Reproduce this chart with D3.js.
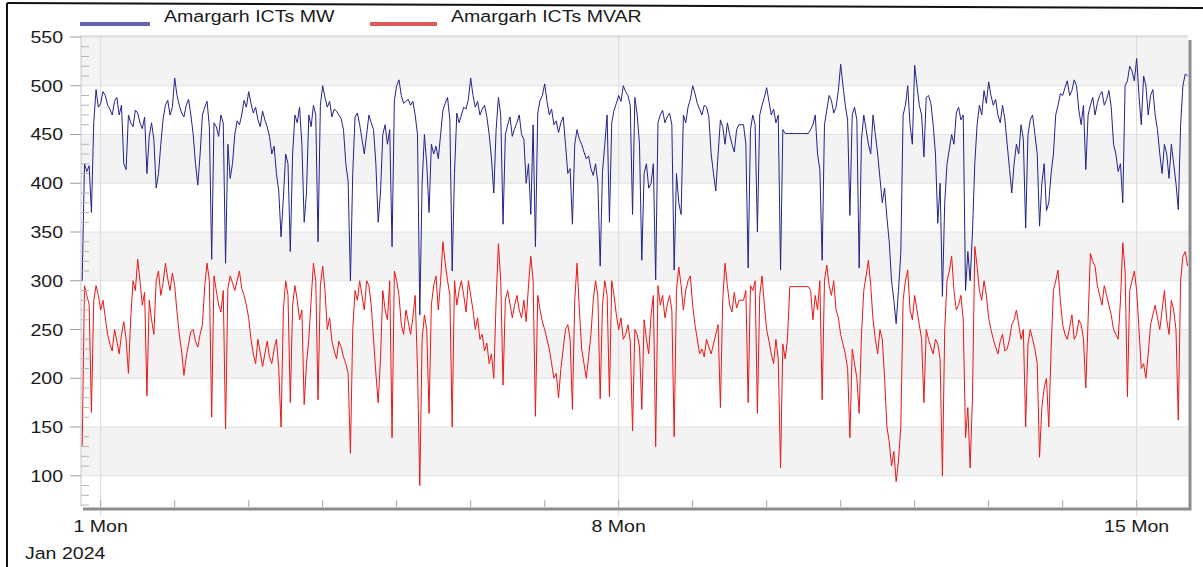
<!DOCTYPE html>
<html lang="en">
<head>
  <meta charset="UTF-8" />
  <title>Amargarh ICTs MW / MVAR</title>
  <style>
    * { margin:0; padding:0; box-sizing:border-box }
    body { background:#fff; font-family:'Liberation Sans', Arial, sans-serif; }
    svg { display:block; }
  </style>
</head>
<body>
  <div id="chart"></div>

  <script src="https://d3js.org/d3.v7.min.js"></script>
  <script>
    // ── Data ──
    // readings every 90 min from 31 Dec 2023 18:00, plus the readings
    // taken half-way between them (45 min later)
    const seriesNames = ["Amargarh ICTs MW", "Amargarh ICTs MVAR"];
    const startTime = Date.UTC(2023, 11, 31, 18, 0);
    const stepMinutes = 45;

    const mwValues = [
      300,412,370,496,482,490,476,484,470,420, 470,458,472,456,410,462,395,440,480,470,
      508,480,468,486,450,398,470,484,322,458, 470,318,405,450,460,485,494,472,465,474,
      458,430,410,345,430,330,470,478,360,470, 480,340,500,478,468,474,466,420,300,468,
      460,430,470,455,360,450,440,335,500,490, 484,480,470,265,450,370,430,425,475,488,
      310,472,470,476,508,478,470,480,450,390, 488,358,460,448,462,450,400,368,335,485,
      502,470,460,452,468,410,358,455,440,425, 415,420,315,440,360,475,490,500,490,368,
      470,321,420,400,301,470,462,472,311,380, 470,478,500,482,470,478,430,392,465,440,
      450,432,460,460,313,470,350,480,498,470, 462,311,451,451,451,451,451,451,460,430,
      321,475,485,478,522,480,367,478,313,470, 440,470,430,380,365,300,256,328,480,460,
      521,480,427,490,460,359,284,420,450,472, 465,290,300,420,480,495,504,480,470,480,
      440,390,440,460,354,465,450,356,420,380, 430,480,490,505,495,500,460,414,480,470,
      490,480,495,440,412,380,505,515,528,460, 500,490,470,430,440,405,420,373,500,510
    ];
    const mwMid = [
      420,418,462,478,494,480,470,488,480,414, 462,475,462,468,448,445,410,466,485,478,
      490,472,480,470,420,430,478,458,462,448, 462,440,420,464,470,478,482,478,458,465,
      448,438,392,385,420,430,462,440,390,458, 470,480,488,484,476,470,455,402,410,472,
      445,450,462,420,390,460,455,485,506,482, 486,484,450,400,420,440,438,450,482,465,
      410,462,478,486,490,484,476,468,425,455, 470,450,468,456,470,445,420,460,472,490,
      484,476,464,462,440,415,440,445,432,428, 408,400,412,470,462,482,484,494,480,488,
      440,410,395,420,462,475,468,460,410,368, 462,486,492,476,480,468,410,430,458,462,
      440,455,460,440,455,460,470,488,484,476, 470,455,451,451,451,451,451,455,470,414,
      460,490,472,495,500,465,470,465,445,455, 430,450,405,395,340,280,290,470,500,440,
      500,470,488,482,430,400,380,435,440,478, 470,330,350,460,470,482,490,486,462,466,
      415,420,430,445,450,470,430,400,372,410, 470,492,498,490,506,475,480,470,488,482,
      494,486,478,430,420,500,520,505,490,510, 470,496,455,410,430,440,400,460,512
    ];

    const mvarValues = [
      130,285,165,295,270,262,235,250,225,258, 205,300,322,275,182,260,300,285,318,290,
      295,245,203,235,250,232,255,318,160,290, 268,148,305,290,310,285,262,225,240,212,
      238,215,240,150,300,175,295,260,173,240, 318,178,315,250,238,220,232,215,123,290,
      300,270,295,240,175,290,260,139,300,255, 270,245,285, 90,265,164,295,270,340,300,
      150,275,300,268,285,250,240,228,215,200, 338,193,290,262,285,262,258,325,161,270,
      250,230,200,180,230,255,168,318,230,200, 245,300,179,300,181,285,250,240,255,146,
      245,168,240,265,130,275,262,285,140,314, 270,300,275,240,230,240,225,245,170,318,
      275,288,280,280,175,290,164,305,250,225, 240,108,220,294,294,294,294,294,260,270,
      178,316,285,270,245,225,139,215,164,290, 321,260,225,240,150,110, 94,150,300,270,
      285,255,175,240,225,235,100,300,325,270, 285,139,108,335,290,300,262,240,225,245,
      230,255,270,240,150,250,230,119,190,150, 290,311,255,240,265,245,255,190,328,315,
      285,295,275,250,240,339,181,300,290,210, 200,255,275,250,290,245,270,157,325,315
    ];
    const mvarMid = [
      295,276,280,285,280,245,228,238,245,240, 262,290,300,288,280,245,310,298,302,308,
      268,228,222,248,238,245,295,300,305,275, 290,292,298,300,292,275,240,215,226,225,
      222,230,210,270,285,275,280,270,215,280, 300,295,290,262,228,238,222,205,250,280,
      285,300,275,205,220,270,300,310,285,245, 258,262,210,240,250,275,305,300,318,285,
      300,290,285,300,270,262,245,236,225,280, 300,280,276,275,270,280,295,300,285,258,
      240,215,205,210,250,240,280,270,215,222, 280,285,275,285,300,265,262,245,238,250,
      232,260,225,285,295,285,275,270,290,295, 290,305,255,225,222,232,235,255,280,295,
      268,272,280,290,295,300,285,275,238,215, 220,235,240,294,294,294,294,290,285,300,
      300,295,300,262,235,210,230,200,245,305, 295,240,250,200,135,125,115,280,311,260,
      270,240,250,232,240,220,250,310,290,275, 260,170,180,315,280,285,250,232,238,228,
      240,260,255,250,235,240,215,170,200,230, 300,280,245,252,240,260,240,260,320,295,
      275,285,265,245,280,310,290,310,250,215, 225,265,262,270,260,280,250,300,330
    ];

    const yTicks = [100,150,200,250,300,350,400,450,500,550];
    const yBands = [[100,150],[200,250],[300,350],[400,450],[500,550]];
    const xMajorDays = [1, 8, 15];
    const xMajorLabels = ["1 Mon", "8 Mon", "15 Mon"];
    const xSubLabel = "Jan 2024";

    const colors = { mw:"#22228c", mvar:"#ee1515", mwKey:"#6464b0", mvarKey:"#e05a5a" };

    // put the 90-min readings and the half-way readings in time order
    const merge = (a, b) => a.flatMap((v, i) => i < b.length ? [v, b[i]] : [v]);
    const mwSeries = merge(mwValues, mwMid);
    const mvarSeries = merge(mvarValues, mvarMid);

    // ── Setup ──
    const width = 1203, height = 567;
    const plot = { left:81, right:1188, top:36, bottom:507 };

    const x = d3.scaleUtc()
      .domain([Date.UTC(2023,11,31,17,37), Date.UTC(2024,0,15,16,39)])
      .range([plot.left, plot.right]);
    const y = d3.scaleLinear().domain([68, 551]).range([plot.bottom, plot.top]);

    const svg = d3.select("#chart").append("svg")
      .attr("width", width).attr("height", height);

    const FONT = "'Liberation Sans', Arial, sans-serif";
    function label(g, px, py, str, anchor) {
      return g.append("text")
        .attr("transform", `translate(${px},${py}) scale(1.15,1)`)
        .attr("text-anchor", anchor)
        .attr("font-family", FONT).attr("font-size", 17)
        .attr("fill", "#1a1a1a")
        .text(str);
    }

    // outer frame (black, slightly tilted top like the scan)
    svg.append("line").attr("x1",7).attr("y1",3).attr("x2",width).attr("y2",8)
      .attr("stroke","#111").attr("stroke-width",2);
    svg.append("line").attr("x1",7).attr("y1",3).attr("x2",7).attr("y2",height)
      .attr("stroke","#111").attr("stroke-width",2);

    // ── Plot background, bands, grid ──
    svg.append("rect")
      .attr("x", plot.left).attr("y", plot.top)
      .attr("width", plot.right-plot.left).attr("height", plot.bottom-plot.top)
      .attr("fill", "#fff");

    svg.append("g").selectAll("rect").data(yBands).join("rect")
      .attr("x", plot.left).attr("width", plot.right-plot.left)
      .attr("y", d => y(d[1])).attr("height", d => y(d[0]) - y(d[1]))
      .attr("fill", "#f3f3f3");

    svg.append("g").selectAll("line").data(yTicks).join("line")
      .attr("x1", plot.left).attr("x2", plot.right)
      .attr("y1", d => y(d)).attr("y2", d => y(d))
      .attr("stroke", "#e2e2e2");

    const majorDates = xMajorDays.map(d => new Date(Date.UTC(2024,0,d)));
    svg.append("g").selectAll("line").data(majorDates).join("line")
      .attr("x1", d => x(d)).attr("x2", d => x(d))
      .attr("y1", plot.top).attr("y2", plot.bottom + 9)
      .attr("stroke", "#dadada");

    // plot border (top/left light)
    svg.append("path")
      .attr("d", `M${plot.left},${plot.bottom}V${plot.top}H${plot.right}`)
      .attr("fill","none").attr("stroke","#c8c8c8");

    // ── Series ──
    const timeAt = i => new Date(startTime + i*stepMinutes*60000);
    const line = d3.line().x((d,i) => x(timeAt(i))).y(d => y(d));

    svg.append("path").datum(mvarSeries)
      .attr("d", line).attr("fill","none")
      .attr("stroke", colors.mvar).attr("stroke-width", 1).attr("stroke-linejoin","round");
    svg.append("path").datum(mwSeries)
      .attr("d", line).attr("fill","none")
      .attr("stroke", colors.mw).attr("stroke-width", 1).attr("stroke-linejoin","round");

    // ── Y axis ──
    const yAxis = svg.append("g");
    yAxis.selectAll("line.tick").data(yTicks).join("line")
      .attr("x1", plot.left - 11).attr("x2", plot.left)
      .attr("y1", d => y(d)).attr("y2", d => y(d))
      .attr("stroke", "#a0a0a0");
    const minor = d3.range(70, 551, 10).filter(v => v % 50 !== 0);
    yAxis.selectAll("line.minor").data(minor).join("line")
      .attr("x1", plot.left).attr("x2", plot.left + 8)
      .attr("y1", d => y(d)).attr("y2", d => y(d))
      .attr("stroke", "#b4b4b4");
    yTicks.forEach(v => label(yAxis, 63, y(v) + 6, v, "end"));

    // ── X axis ──
    const xAxis = svg.append("g");
    const days = d3.utcDay.range(new Date(Date.UTC(2024,0,1)), x.domain()[1]);
    xAxis.selectAll("line").data(days).join("line")
      .attr("x1", d => x(d)).attr("x2", d => x(d))
      .attr("y1", plot.bottom - 7).attr("y2", plot.bottom)
      .attr("stroke", "#a8a8a8");
    majorDates.forEach((d,i) => label(xAxis, x(d), 532, xMajorLabels[i], "middle"));
    label(xAxis, 25, 559, xSubLabel, "start");

    // 3D shadow on bottom / right
    svg.append("path")
      .attr("d", `M${plot.left+2},${plot.bottom+2}H${plot.right+2}V${plot.top+4}`)
      .attr("fill","none").attr("stroke","#8c8c8c").attr("stroke-width",3);

    // ── Legend ──
    const legend = svg.append("g");
    const keys = [
      { x1:80,  x2:150, tx:164, color:colors.mwKey,   name:seriesNames[0] },
      { x1:370, x2:437, tx:451, color:colors.mvarKey, name:seriesNames[1] }
    ];
    keys.forEach(k => {
      legend.append("line").attr("x1",k.x1).attr("x2",k.x2).attr("y1",24).attr("y2",24)
        .attr("stroke",k.color).attr("stroke-width",4);
      label(legend, k.tx, 22, k.name, "start");
    });
  </script>
</body>
</html>
